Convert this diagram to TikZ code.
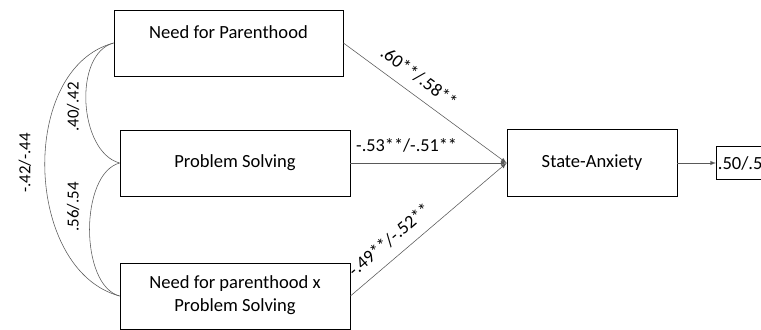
\documentclass[tikz,border=0pt]{standalone}
\usepackage{fontspec}
\setmainfont{Carlito}
\usetikzlibrary{arrows}
\newcommand{\varbox}[6]{\node[draw,rectangle,semithick,minimum width=#4cm,minimum height=#5cm,align=center,font=\fontsize{13.2}{16}\selectfont] (#1) at (#2,#3) {#6};}
\newcommand{\effect}[4]{\draw[thin,black!65,->,>=latex] (#1) -- node[sloped,above=4pt,pos=#3,text=black,font=\fontsize{13}{15.5}\selectfont] {#4} (#2);}
\newcommand{\corr}[3]{\draw[thin,black!65] (#1.west) to[out=195,in=165,looseness=#3] (#2.west);}
\newcommand{\corrlabel}[4]{\node[rotate=90,font=\fontsize{12}{14.5}\selectfont] (#1) at (#2,#3) {#4};}

\begin{document}
\begin{tikzpicture}
    \useasboundingbox (0,0) rectangle (19.025,8.225);
    \clip (0,0) rectangle (19.025,8.225);
    \varbox{need}{5.7125}{7.15}{5.725}{1.65}{Need for Parenthood\\ \mbox{}}
    \varbox{solve}{5.875}{4.15}{5.75}{1.65}{Problem Solving}
    \varbox{inter}{5.875}{0.825}{5.75}{1.65}{\mbox{}\\[-8pt]Need for parenthood x\\Problem Solving}
    \varbox{anx}{14.8}{4.15}{4.25}{1.675}{State-Anxiety}
    \node[draw,rectangle,semithick,minimum height=0.825cm,inner xsep=1pt,anchor=west,font=\fontsize{13.2}{16}\selectfont] (rsq) at (17.9,4.15) {.50/.57};
    \effect{need.east}{anx.west}{0.4}{.60**/.58**}
    \effect{solve.east}{anx.west}{0.36}{-.53**/-.51**}
    \effect{inter.east}{anx.west}{0.32}{-.49**/-.52**}
    \draw[thin,black!65,->,>=latex] (anx) -- (rsq);
    \corr{need}{solve}{0.9}\corr{solve}{inter}{0.8}\corr{need}{inter}{1.0}
    \corrlabel{r13}{0.625}{4.15}{-.42/-.44}
    \corrlabel{r12}{1.825}{5.55}{.40/.42}
    \corrlabel{r23}{1.825}{3.05}{.56/.54}
\end{tikzpicture}
\end{document}
